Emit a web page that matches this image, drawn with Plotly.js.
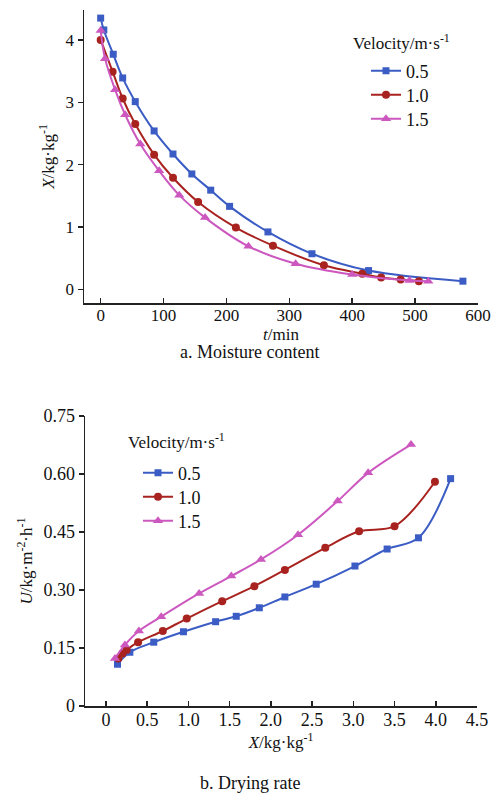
<!DOCTYPE html>
<html>
<head>
<meta charset="utf-8">
<script src="https://cdn.plot.ly/plotly-3.0.1.min.js"></script>
<style>html,body{margin:0;padding:0;background:#fff;} #chart{width:497px;height:796px;}</style>
</head>
<body>
<div id="chart"></div>
<script>
// ---- Chart a: moisture content vs time ----
const velocityLabels = ["0.5", "1.0", "1.5"];

const tV05 = [0, 5, 20, 35, 55, 85, 115, 145, 175, 205, 266, 336, 426, 576];
const xV05 = [4.35, 4.16, 3.77, 3.39, 3.01, 2.54, 2.17, 1.85, 1.59, 1.33, 0.92, 0.57, 0.30, 0.13];

const tV10 = [0, 19, 35, 55, 85, 115, 155, 215, 274, 355, 416, 446, 477, 506];
const xV10 = [4.0, 3.49, 3.06, 2.65, 2.16, 1.79, 1.40, 0.99, 0.70, 0.385, 0.25, 0.19, 0.155, 0.13];

const tV15 = [0, 7, 23, 39, 63, 93, 125, 166, 235, 310, 400, 491, 521];
const xV15 = [4.15, 3.70, 3.20, 2.80, 2.33, 1.90, 1.51, 1.15, 0.69, 0.41, 0.236, 0.14, 0.13];

// ---- Chart b: drying rate vs moisture content ----
const rxV05 = [0.14, 0.29, 0.58, 0.94, 1.33, 1.58, 1.86, 2.17, 2.55, 3.02, 3.41, 3.79, 4.18];
const uV05  = [0.108, 0.139, 0.165, 0.192, 0.218, 0.232, 0.254, 0.282, 0.315, 0.362, 0.406, 0.435, 0.588];

const rxV10 = [0.15, 0.20, 0.25, 0.39, 0.69, 0.98, 1.41, 1.80, 2.17, 2.66, 3.07, 3.50, 3.99];
const uV10  = [0.123, 0.136, 0.145, 0.165, 0.194, 0.226, 0.271, 0.310, 0.352, 0.409, 0.452, 0.465, 0.580];

const rxV15 = [0.11, 0.23, 0.40, 0.67, 1.13, 1.52, 1.88, 2.33, 2.81, 3.18, 3.70];
const uV15  = [0.123, 0.158, 0.194, 0.231, 0.291, 0.336, 0.379, 0.443, 0.530, 0.603, 0.676];

const xTicksA = [0, 100, 200, 300, 400, 500, 600];
const yTicksA = [0, 1, 2, 3, 4];
const xTicksB = [0, 0.5, 1.0, 1.5, 2.0, 2.5, 3.0, 3.5, 4.0, 4.5];
const xTickTextB = ["0", "0.5", "1.0", "1.5", "2.0", "2.5", "3.0", "3.5", "4.0", "4.5"];
const yTicksB = [0, 0.15, 0.30, 0.45, 0.60, 0.75];
const yTickTextB = ["0", "0.15", "0.30", "0.45", "0.60", "0.75"];

const colors = ["#3b5cc4", "#a8231f", "#cc58bf"];
const symbols = ["square", "circle", "triangle-up"];
const msizes = [7, 8, 9];

const FONT = "Liberation Serif";
const W = 497, H = 796;
const px = v => v / W;
const py = v => 1 - v / H;

function mk(x, y, i, xa, ya, leg) {
  return {
    x: x, y: y, xaxis: xa, yaxis: ya, name: velocityLabels[i], legend: leg,
    type: "scatter", mode: "lines+markers",
    line: {color: colors[i], width: 2, shape: "spline", smoothing: 1},
    marker: {color: colors[i], symbol: symbols[i], size: msizes[i]}
  };
}

const traces = [
  mk(tV05, xV05, 0, "x", "y", "legend"),
  mk(tV10, xV10, 1, "x", "y", "legend2"),
  mk(tV15, xV15, 2, "x", "y", "legend3"),
  mk(rxV05, uV05, 0, "x2", "y2", "legend4"),
  mk(rxV10, uV10, 1, "x2", "y2", "legend5"),
  mk(rxV15, uV15, 2, "x2", "y2", "legend6")
];

const TF = {family: FONT, size: 17, color: "#111"};
const TFB = {family: FONT, size: 18, color: "#111"};

function leg(xpx, ypx) {
  return {
    x: px(xpx), xanchor: "left", y: py(ypx), yanchor: "middle",
    bgcolor: "rgba(0,0,0,0)", borderwidth: 0,
    font: {family: FONT, size: 18, color: "#111"}
  };
}

const axCommon = {
  showgrid: false, zeroline: false, showline: true, linecolor: "#222", linewidth: 1.5,
  ticks: "outside", ticklen: 5, tickwidth: 1.5, tickcolor: "#222",
  tickfont: TF
};

const layout = {
  width: W, height: H,
  margin: {l: 0, r: 0, t: 0, b: 0},
  paper_bgcolor: "#fff", plot_bgcolor: "#fff",
  font: TF,
  xaxis: Object.assign({}, axCommon, {
    domain: [px(84), px(478)], anchor: "y", range: [-26.5, 600],
    tickvals: xTicksA, ticks: "inside", ticklabelstandoff: -4,
    title: {text: "<i>t</i>/min", standoff: 0, font: TF}
  }),
  yaxis: Object.assign({}, axCommon, {
    domain: [py(303), py(10)], anchor: "x", range: [-0.22, 4.48],
    tickvals: yTicksA,
    title: {text: "<i>X</i>/kg·kg<sup>-1</sup>", standoff: 6, font: TF}
  }),
  xaxis2: Object.assign({}, axCommon, {
    domain: [px(85), px(477)], anchor: "y2", range: [-0.254, 4.5],
    tickvals: xTicksB, ticktext: xTickTextB, ticks: "inside", ticklabelstandoff: -3,
    tickfont: TFB,
    title: {text: "<i>X</i>/kg·kg<sup>-1</sup>", standoff: 0, font: TF}
  }),
  yaxis2: Object.assign({}, axCommon, {
    domain: [py(706), py(416)], anchor: "x2", range: [0, 0.75],
    tickvals: yTicksB, ticktext: yTickTextB, tickfont: TFB,
    title: {text: "<i>U</i>/kg·m<sup>-2</sup>·h<sup>-1</sup>", standoff: 6, font: TF}
  }),
  legend: leg(366, 71),
  legend2: leg(366, 95),
  legend3: leg(366, 119),
  legend4: leg(138, 473),
  legend5: leg(138, 497),
  legend6: leg(138, 521),
  annotations: [
    {text: "Velocity/m·s<sup>-1</sup>", xref: "paper", yref: "paper", x: px(401), y: py(42),
     showarrow: false, xanchor: "center", yanchor: "middle", font: TF},
    {text: "Velocity/m·s<sup>-1</sup>", xref: "paper", yref: "paper", x: px(176), y: py(441),
     showarrow: false, xanchor: "center", yanchor: "middle", font: TF},
    {text: "a. Moisture content", xref: "paper", yref: "paper", x: px(250), y: py(352),
     showarrow: false, xanchor: "center", yanchor: "middle", font: {family: FONT, size: 18, color: "#111"}},
    {text: "b. Drying rate", xref: "paper", yref: "paper", x: px(250), y: py(783),
     showarrow: false, xanchor: "center", yanchor: "middle", font: {family: FONT, size: 18, color: "#111"}}
  ],
  showlegend: true
};

Plotly.newPlot("chart", traces, layout, {staticPlot: true, displayModeBar: false});
</script>
</body>
</html>
